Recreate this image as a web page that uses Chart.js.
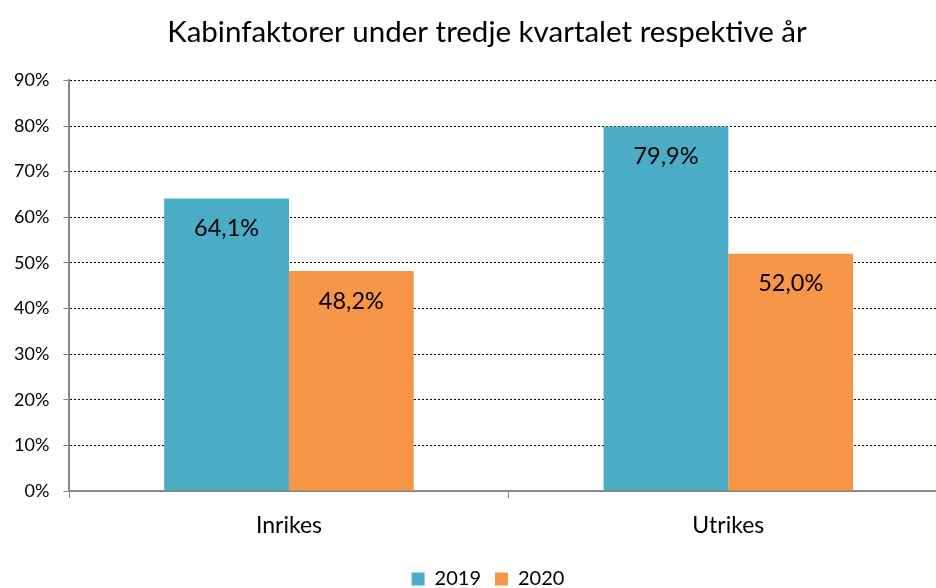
<!DOCTYPE html>
<html>
<head>
<meta charset="utf-8">
<script src="https://cdn.jsdelivr.net/npm/chart.js@4"></script>
<style>
  html, body { margin: 0; padding: 0; background: #fff; overflow: hidden; }
  #wrap { width: 974px; height: 588px; }
</style>
</head>
<body>
<div id="wrap"><canvas id="chart" width="974" height="588"></canvas></div>
<script>
const kategorier = ['Inrikes', 'Utrikes']
const ar2019 = [64.1, 79.9]
const ar2020 = [48.2, 52.0]
const serier = ['2019', '2020']
const titel = 'Kabinfaktorer under tredje kvartalet respektive år'

const FONT = 'Lato, "Open Sans", sans-serif'

// etiketter inne i staplarna
const etiketter = {
    id: 'etiketter',
    afterDatasetsDraw(chart) {
        const ctx = chart.ctx
        ctx.save()
        ctx.font = '23.5px ' + FONT
        ctx.fillStyle = '#000'
        ctx.textAlign = 'center'
        ctx.textBaseline = 'middle'
        chart.data.datasets.forEach((ds, i) => {
            chart.getDatasetMeta(i).data.forEach((bar, j) => {
                const txt = ds.data[j].toFixed(1).replace('.', ',') + '%'
                ctx.fillText(txt, bar.x, bar.y + 30)
            })
        })
        ctx.restore()
    }
}

// flytta titel och legend lite åt höger / ner
const flytta = {
    id: 'flytta',
    afterLayout(chart) {
        chart.titleBlock.left += 26
        const lg = chart.legend
        lg.left += 28
        const h = lg.bottom - lg.top
        lg.top = 555
        lg.bottom = 555 + h
    }
}

const ctx = document.getElementById('chart').getContext('2d')

new Chart(ctx, {
    type: 'bar',
    data: {
        labels: kategorier,
        datasets: [{
            label: serier[0],
            data: ar2019,
            backgroundColor: '#4BACC6',
            borderWidth: 0
        }, {
            label: serier[1],
            data: ar2020,
            backgroundColor: '#F79646',
            borderWidth: 0
        }]
    },
    options: {
        responsive: false,
        animation: false,
        events: [],
        layout: {
            padding: { left: 0, right: 26, top: 0, bottom: 0 }
        },
        datasets: {
            bar: { categoryPercentage: 0.568, barPercentage: 1.0 }
        },
        plugins: {
            title: {
                display: true,
                text: titel,
                color: '#000',
                font: { family: FONT, size: 29.5, weight: 'normal' },
                padding: { top: 15, bottom: 30 }
            },
            legend: {
                position: 'bottom',
                labels: {
                    color: '#000',
                    font: { family: FONT, size: 20 },
                    boxWidth: 13,
                    boxHeight: 13,
                    padding: 14
                }
            },
            tooltip: { enabled: false }
        },
        scales: {
            x: {
                afterFit(scale) { scale.height = 53 },
                grid: {
                    offset: true,
                    drawOnChartArea: false,
                    tickLength: 7,
                    tickColor: '#888',
                    color: '#888'
                },
                border: { color: '#888', width: 2 },
                ticks: {
                    color: '#000',
                    font: { family: FONT, size: 23 },
                    padding: 14
                }
            },
            y: {
                min: 0,
                max: 90,
                grid: {
                    color: '#000',
                    lineWidth: 1,
                    tickLength: 6,
                    tickColor: '#888',
                    tickBorderDash: []
                },
                border: { color: '#888', width: 2, dash: [2, 2] },
                ticks: {
                    stepSize: 10,
                    color: '#000',
                    font: { family: FONT, size: 18 },
                    padding: 14,
                    callback: v => v + '%'
                }
            }
        }
    },
    plugins: [etiketter, flytta]
})
</script>
</body>
</html>
